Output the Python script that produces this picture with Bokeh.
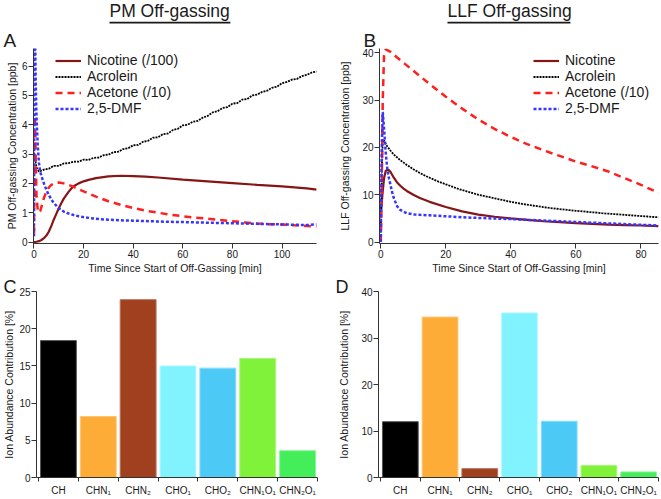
from bokeh.plotting import figure
from bokeh.layouts import column, row
from bokeh.models import Legend, LegendItem, Title, FixedTicker, Range1d
from bokeh.embed import file_html
from bokeh.resources import INLINE

# ---------------- data ----------------
# Panel A: PM off-gassing
pm_nic_t = [0, 1, 2, 3, 4, 5, 6, 7, 8, 9, 10, 11, 12, 13, 14, 15, 16, 18, 20, 22, 25, 30, 35, 40, 45, 50, 60, 70, 80, 90, 100, 110, 114]
pm_nic_v = [0, 0.01, 0.03, 0.07, 0.13, 0.22, 0.36, 0.55, 0.77, 0.96, 1.15, 1.32, 1.48, 1.6, 1.72, 1.82, 1.9, 2.0, 2.07, 2.12, 2.18, 2.24, 2.26, 2.25, 2.23, 2.2, 2.13, 2.07, 2.01, 1.95, 1.9, 1.83, 1.79]

pm_acr_t = [0, 0.5, 1, 2, 4, 6, 8, 10, 12, 14, 16, 18, 20, 22, 24, 26, 28, 30, 32, 34, 36, 38, 40, 42, 44, 46, 48, 50, 52, 54, 56, 58, 60,
            62, 64, 66, 68, 70, 72, 74, 76, 78, 80, 82, 84, 86, 88, 90, 92, 94, 96, 98, 100, 102, 104, 106, 108, 110, 112, 114]
pm_acr_v = [3.05, 2.8, 2.55, 2.4, 2.47, 2.5, 2.6, 2.6, 2.68, 2.69, 2.74, 2.74, 2.81, 2.8, 2.87, 2.88, 2.96, 2.98, 3.06, 3.08, 3.17, 3.2, 3.3, 3.31, 3.42, 3.45, 3.56, 3.57, 3.68, 3.7, 3.82, 3.86, 3.98,
            4.0, 4.1, 4.13, 4.24, 4.3, 4.42, 4.46, 4.57, 4.6, 4.72, 4.74, 4.86, 4.88, 5.0, 5.03, 5.12, 5.16, 5.26, 5.3, 5.42, 5.46, 5.54, 5.56, 5.66, 5.7, 5.78, 5.82]

pm_ace_t = [0, 0.2, 0.4, 0.7, 1, 1.5, 2, 2.5, 3, 4, 5, 6, 7, 8, 10, 12, 14, 16, 18, 20, 25, 30, 35, 40, 45, 50, 55, 60, 65, 70, 75, 80, 85, 90, 95, 100, 105, 110, 114]
pm_ace_v = [0.3, 3.0, 4.3, 2.8, 1.6, 1.1, 1.0, 1.05, 1.2, 1.5, 1.72, 1.86, 1.95, 2.0, 2.03, 2.0, 1.95, 1.88, 1.8, 1.73, 1.55, 1.39, 1.27, 1.16, 1.07, 1.0, 0.93, 0.88, 0.83, 0.8, 0.75, 0.71, 0.67, 0.63, 0.61, 0.6, 0.57, 0.55, 0.53]

pm_dmf_t = [0, 0.2, 0.4, 0.6, 0.8, 1, 1.5, 2, 2.5, 3, 4, 5, 6, 7, 8, 10, 12, 14, 16, 18, 20, 25, 30, 35, 40, 50, 60, 70, 80, 90, 100, 110, 114]
pm_dmf_v = [0.2, 7.5, 7.5, 6.0, 5.0, 4.3, 3.3, 2.7, 2.4, 2.25, 2.0, 1.78, 1.6, 1.45, 1.33, 1.15, 1.04, 0.97, 0.92, 0.88, 0.85, 0.79, 0.76, 0.74, 0.73, 0.7, 0.68, 0.66, 0.64, 0.62, 0.6, 0.58, 0.6]

# Panel B: LLF off-gassing
llf_nic_t = [0, 0.5, 1, 1.5, 2, 2.5, 3, 4, 5, 6, 7, 8, 10, 12, 15, 20, 25, 30, 35, 40, 45, 50, 55, 60, 65, 70, 75, 80, 85.4]
llf_nic_v = [5.8, 10, 13.5, 15, 15.3, 15.2, 14.8, 13.6, 12.6, 11.9, 11.3, 10.8, 10.0, 9.3, 8.5, 7.4, 6.5, 5.8, 5.35, 5.0, 4.7, 4.4, 4.2, 4.0, 3.85, 3.7, 3.6, 3.5, 3.36]

llf_acr_t = [0, 0.3, 0.6, 1, 1.5, 2, 3, 4, 5, 6, 8, 10, 12, 14, 16, 18, 20, 22, 24, 26, 28, 30, 32, 34, 36, 38, 40, 42, 44, 46, 48, 50,
             52, 54, 56, 58, 60, 62, 64, 66, 68, 70, 72, 74, 76, 78, 80, 82, 84, 85.4]
llf_acr_v = [2, 15, 21.5, 21.5, 20.8, 20.2, 19.3, 18.5, 17.9, 17.3, 16.3, 15.4, 14.6, 13.9, 13.3, 12.7, 12.2, 11.7, 11.2, 10.8, 10.4, 10.0, 9.7, 9.4, 9.1, 8.8, 8.5, 8.25, 8.0, 7.8, 7.6, 7.4,
             7.2, 7.05, 6.9, 6.75, 6.6, 6.5, 6.35, 6.25, 6.1, 6.0, 5.9, 5.8, 5.7, 5.6, 5.5, 5.4, 5.3, 5.25]

llf_ace_t = [0, 0.3, 0.6, 1, 1.5, 3, 5, 7.5, 10, 15, 20, 25, 30, 35, 40, 45, 50, 55, 60, 65, 70, 75, 80, 85.4]
llf_ace_v = [0, 12, 30, 39.5, 40.7, 40.2, 39, 37.6, 36.2, 33.4, 30.7, 28.2, 25.9, 23.9, 22.2, 20.7, 19.4, 18.2, 17.0, 16.0, 14.9, 13.5, 12.1, 10.4]

llf_dmf_t = [0, 0.3, 0.6, 1, 1.5, 2, 2.5, 3, 3.5, 4, 5, 6, 7, 8, 10, 12, 15, 20, 25, 30, 40, 50, 60, 70, 80, 85.4]
llf_dmf_v = [0, 20, 27.5, 24, 19, 15.5, 13.5, 12, 10.5, 9.3, 7.6, 6.8, 6.4, 6.1, 5.85, 5.75, 5.65, 5.45, 5.25, 5.1, 4.85, 4.55, 4.25, 3.95, 3.65, 3.5]

# Panels C and D: ion abundance
ion_groups = ["CH", "CHN\u2081", "CHN\u2082", "CHO\u2081", "CHO\u2082", "CHN\u2081O\u2081", "CHN\u2082O\u2081"]
pm_ion = [18.4, 8.2, 23.9, 15.0, 14.7, 16.0, 3.6]
llf_ion = [12.0, 34.5, 1.9, 35.4, 12.1, 2.6, 1.2]
ion_colors = ["#000000", "#FDAD37", "#A0401F", "#80F3FF", "#4DC9F6", "#80F23A", "#44EE5A"]
ion_edges = ["#555555", "#FFC46E", "#B8705A", "#B5F8FF", "#8ADCF9", "#A8F77B", "#88F597"]

pm_yticks = [0, 1, 2, 3, 4, 5, 6]
llf_yticks = [0, 10, 20, 30, 40]
time_ticks_pm = [0, 20, 40, 60, 80, 100]
time_ticks_llf = [0, 20, 40, 60, 80]
pm_ion_ticks = [0, 5, 10, 15, 20, 25]
llf_ion_ticks = [0, 10, 20, 30, 40]

FONT = "Liberation Sans"
TXT = "#1a1a1a"
AX = "#333333"

NIC_C, ACR_C, ACE_C, DMF_C = "#861515", "#000000", "#FF1F1F", "#3535FF"


def style_axes(p):
    for ax in (p.xaxis[0], p.yaxis[0]):
        ax.axis_line_color = AX
        ax.major_tick_line_color = AX
        ax.minor_tick_line_color = AX
        ax.major_tick_out = 5
        ax.major_tick_in = 0
        ax.minor_tick_out = 0
        ax.minor_tick_in = 0
        ax.major_label_text_font = FONT
        ax.major_label_text_font_size = "10px"
        ax.major_label_text_color = TXT
        ax.axis_label_text_font = FONT
        ax.axis_label_text_font_size = "10.5px"
        ax.axis_label_text_font_style = "normal"
        ax.axis_label_text_color = TXT
        ax.major_label_standoff = 1
        ax.axis_label_standoff = 1
    p.xgrid.visible = False
    p.ygrid.visible = False
    p.outline_line_color = None
    p.background_fill_color = "white"
    p.border_fill_color = "white"


def make_fig(geom, xr, yr):
    fx, fy, w, h, mbl, mbr, mbt, mbb = geom
    p = figure(width=w, height=h, x_range=Range1d(*xr), y_range=Range1d(*yr),
               output_backend="svg", toolbar_location=None, title=None,
               min_border_left=mbl, min_border_right=mbr,
               min_border_top=mbt, min_border_bottom=mbb)
    style_axes(p)
    return p


def add_title(p, text, offset, size, standoff, bg=None):
    t = Title(text=text, align="left", offset=offset, standoff=standoff,
              vertical_align="bottom", text_font=FONT, text_font_size=size,
              text_font_style="normal", text_color=TXT)
    if bg is not None:
        t.background_fill_color = bg
    p.add_layout(t, "above")


def time_panel(geom, xr, yr, yticks, xticks, ylabel, series, legend_dx, legend_dy, ylab_standoff):
    fx, fy, w, h, mbl, mbr, mbt, mbb = geom
    p = make_fig(geom, xr, yr)
    p.yaxis.ticker = FixedTicker(ticks=yticks)
    p.xaxis.ticker = FixedTicker(ticks=xticks)
    p.yaxis.axis_label = ylabel
    p.xaxis.axis_label = "Time Since Start of Off-Gassing [min]"
    p.yaxis.axis_label_standoff = ylab_standoff
    items = []
    for name, t, v, col, dash, lw in series:
        r = p.line(t, v, line_color=col, line_dash=dash, line_width=lw)
        items.append(LegendItem(label=name, renderers=[r]))
    fh = h - mbt - mbb
    leg = Legend(items=items, location=(legend_dx, fh - legend_dy - 60),
                 label_text_font=FONT, label_text_font_size="14px", label_text_color=TXT,
                 glyph_width=26, glyph_height=15, label_height=15, label_standoff=6,
                 spacing=0, padding=0, margin=0, border_line_color=None,
                 background_fill_alpha=0)
    p.add_layout(leg)
    return p


def bar_panel(geom, vals, yr, yticks, ylab_standoff):
    p = make_fig(geom, (-0.55, 6.5), yr)
    idx = list(range(len(ion_groups)))
    p.vbar(x=idx, top=vals, width=0.9, bottom=0, fill_color=ion_colors, line_color=ion_edges, line_width=1)
    p.yaxis.ticker = FixedTicker(ticks=yticks)
    p.xaxis.ticker = FixedTicker(ticks=idx, minor_ticks=[i - 0.5 for i in idx] + [len(idx) - 0.5])
    p.xaxis.major_label_overrides = {i: g for i, g in enumerate(ion_groups)}
    p.xaxis.major_tick_out = 0
    p.xaxis.minor_tick_out = 4
    p.xaxis.major_label_standoff = 3
    p.yaxis.axis_label = "Ion Abundance Contribution [%]"
    p.yaxis.axis_label_standoff = ylab_standoff
    return p


# geometry: (page_x, page_y, width, height, min_border_left, right, top, bottom)
gA = (0, 0, 330, 277, 33, 14, 48, 34)
gB = (330, 0, 330, 277, 49, 2, 48, 34)
gC = (0, 277, 330, 221, 35, 13, 14, 15)
gD = (330, 277, 330, 221, 48, 2, 14, 15)

pA = time_panel(gA, (-0.2, 113.9), (-0.05, 6.6), pm_yticks, time_ticks_pm,
                "PM Off-gassing Concentration [ppb]",
                [("Nicotine (/100)", pm_nic_t, pm_nic_v, NIC_C, "solid", 2.2),
                 ("Acrolein", pm_acr_t, pm_acr_v, ACR_C, "2 1", 1.8),
                 ("Acetone (/10)", pm_ace_t, pm_ace_v, ACE_C, "7 5", 2.5),
                 ("2,5-DMF", pm_dmf_t, pm_dmf_v, DMF_C, "3 2", 2.5)],
                22, 8, 1)
pB = time_panel(gB, (-0.4, 85.4), (-0.3, 40.9), llf_yticks, time_ticks_llf,
                "LLF Off-gassing Concentration [ppb]",
                [("Nicotine", llf_nic_t, llf_nic_v, NIC_C, "solid", 2.2),
                 ("Acrolein", llf_acr_t, llf_acr_v, ACR_C, "2 1", 1.8),
                 ("Acetone (/10)", llf_ace_t, llf_ace_v, ACE_C, "7 5", 2.5),
                 ("2,5-DMF", llf_dmf_t, llf_dmf_v, DMF_C, "3 2", 2.5)],
                154, 8, 8)
pC = bar_panel(gC, pm_ion, (0, 25), pm_ion_ticks, 1)
pD = bar_panel(gD, llf_ion, (0, 40), llf_ion_ticks, 8)

# above panels, stacked from the frame outwards: panel letter, underline, title
NBSP = "\u00a0"
add_title(pA, "A", -30, "19px", -4)
add_title(pA, NBSP * 290, 76, "1.5px", 12, bg=TXT)
add_title(pA, "PM Off-gassing", 76, "17.5px", -15)
add_title(pB, "B", -16, "19px", -4)
add_title(pB, NBSP * 295, 68, "1.5px", 12, bg=TXT)
add_title(pB, "LLF Off-gassing", 68, "17.5px", -15)
add_title(pC, "C", -33, "18px", -10)
add_title(pD, "D", -43, "18px", -10)

layout = column(row(pA, pB), row(pC, pD))
open("out.html", "w").write(file_html(layout, INLINE))
